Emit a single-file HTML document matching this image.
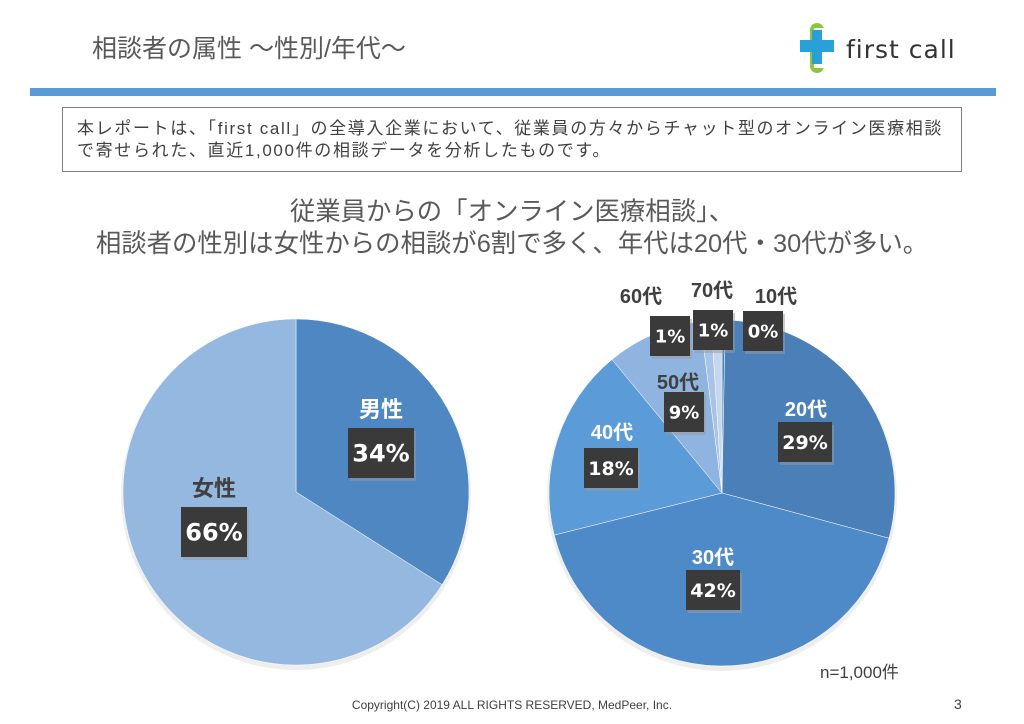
<!DOCTYPE html>
<html><head><meta charset="utf-8"><style>
body{margin:0;width:1024px;height:724px;background:#fff;overflow:hidden;font-family:"Liberation Sans","Noto Sans CJK JP",sans-serif;position:relative}
.a{position:absolute}
</style></head><body>
<div class="a" style="left:92px;top:29px;font-size:25px;color:#595959">相談者の属性 ～性別/年代～</div>
<div class="a" style="left:800px;top:22px;width:170px;height:52px">
<svg width="170" height="52"><rect x="10" y="1" width="14" height="50" rx="7" fill="#8cc63f"/><rect x="14" y="6" width="10" height="40" fill="#fff"/><rect x="0" y="18" width="34" height="12" fill="#29a0d8"/><rect x="12" y="8" width="10" height="34" fill="#29a0d8"/>
<text x="46" y="36" font-size="25" fill="#333" font-family="DejaVu Sans" letter-spacing="1">first call</text></svg></div>
<div class="a" style="left:30px;top:88px;width:966px;height:8px;background:#5b9bd5"></div>
<div class="a" style="left:62px;top:107px;width:900px;height:65px;border:1.5px solid #7f7f7f;box-sizing:border-box;padding:10px 0 0 14px;font-size:17px;line-height:22px;color:#404040;white-space:nowrap;letter-spacing:1.65px">本レポートは、「first call」の全導入企業において、従業員の方々からチャット型のオンライン医療相談<br>で寄せられた、直近1,000件の相談データを分析したものです。</div>
<div class="a" style="left:0;top:196px;width:1024px;text-align:center;font-size:25.4px;line-height:32px;color:#595959;white-space:nowrap">従業員からの「オンライン医療相談」、<br>相談者の性別は女性からの相談が6割で多く、年代は20代・30代が多い。</div>
<svg class="a" style="left:0;top:0" width="1024" height="724" id="chart"></svg>
<div class="a" style="left:820px;top:658px;font-size:17px;color:#404040">n=1,000件</div>
<div class="a" style="left:0;top:698px;width:1024px;text-align:center;font-size:12px;color:#404040">Copyright(C) 2019 ALL RIGHTS RESERVED, MedPeer, Inc.</div>
<div class="a" style="left:954px;top:696px;font-size:14px;color:#404040">3</div>
<script>
const genderCats=["男性","女性"];
const genderVals=[34,66];
const genderColors=["#4f87c2","#95b8e0"];
const genderLabelPos=[[381,408,381,453],[214,487,214,532]];
const ageCats=["10代","20代","30代","40代","50代","60代","70代"];
const ageVals=[0.3,29,42,18,9,1,1];
const ageShown=["0%","29%","42%","18%","9%","1%","1%"];
const ageColors=["#4a7fb8","#4a7fb8","#4f8ac8","#5b9bd8","#8fb4df","#a7c3e6","#c4d7ef"];
const ageLabelPos=[[776,294,763,331],[806,407,805,442],[713,555,713,590],[612,430,611,468],[678,380,684,412],[641,294,670,336],[712,288,713,330]];
const ageLabelDark=[true,false,false,false,true,true,true];
const svg=document.getElementById('chart');const NS="http://www.w3.org/2000/svg";
function mk(t,a){const e=document.createElementNS(NS,t);for(const k in a)e.setAttribute(k,a[k]);svg.appendChild(e);return e;}
function pie(cx,cy,r,vals,cols,name){const tot=vals.reduce((a,b)=>a+b,0);let a0=0;
 mk('circle',{cx:cx,cy:cy+3,r:r+2,fill:'#ddd',opacity:0.5});
 vals.forEach((v,i)=>{const a1=a0+v/tot*2*Math.PI;
  const x0=cx+r*Math.sin(a0),y0=cy-r*Math.cos(a0),x1=cx+r*Math.sin(a1),y1=cy-r*Math.cos(a1);
  const p=mk('path',{d:`M${cx},${cy}L${x0},${y0}A${r},${r} 0 ${a1-a0>Math.PI?1:0} 1 ${x1},${y1}Z`,fill:cols[i],stroke:'#fff','stroke-width':0.5});
  
  
  a0=a1;});}
function label(cat,pct,pos,dark,name,big){
 const fs=big?22:20;
 const t=mk('text',{x:pos[0],y:pos[1]+9,'text-anchor':'middle','font-size':fs,'font-weight':'bold',fill:dark?'#404040':'#fff'});t.textContent=cat;
 
 
 let w,h,vs;
 if(big){w=66;h=50;vs=24;}else if(pct.length>2){w=54;h=40;vs=19;}else{w=40;h=40;vs=18;}
 mk('rect',{x:pos[2]-w/2+2,y:pos[3]-h/2+3,width:w,height:h,fill:'#999',opacity:0.5});
 const b=mk('rect',{x:pos[2]-w/2,y:pos[3]-h/2,width:w,height:h,fill:'#3a3a3a'});
 
 
 const v=mk('text',{x:pos[2],y:pos[3]+vs*0.36,'text-anchor':'middle','font-size':vs,'font-weight':'bold',fill:'#fff','font-family':'DejaVu Sans'});v.textContent=pct;
 
 }
pie(296,492,173,genderVals,genderColors,'gender');
pie(722,493,173,ageVals,ageColors,'age');
genderCats.forEach((c,i)=>label(c,genderVals[i]+'%',genderLabelPos[i],i==1,'gender-'+i,true));
ageCats.forEach((c,i)=>label(c,ageShown[i],ageLabelPos[i],ageLabelDark[i],'age-'+i,false));
</script>
</body></html>
